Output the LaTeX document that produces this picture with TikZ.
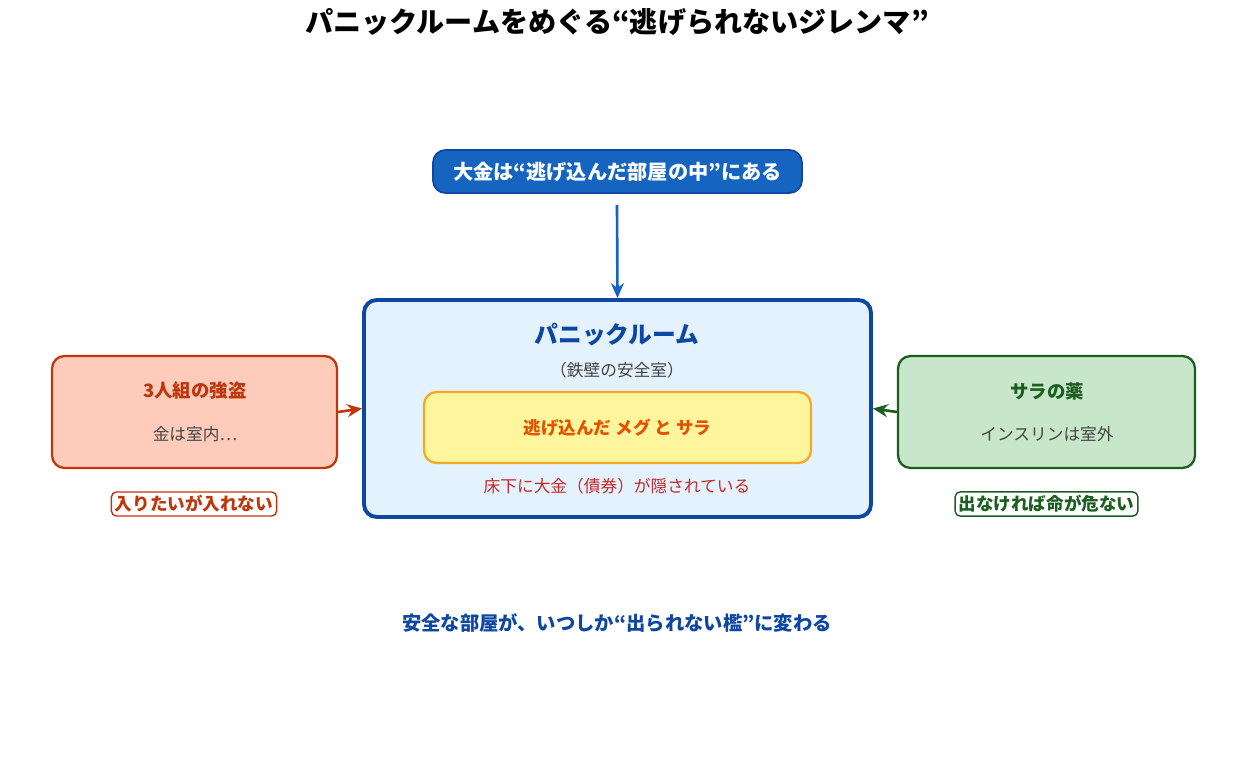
\documentclass[tikz,border=0pt]{standalone}
\usepackage{fontspec}
\setmainfont{Noto Sans CJK JP}
\usetikzlibrary{arrows.meta}
\definecolor{deepblue}{HTML}{0D47A1}
\definecolor{midblue}{HTML}{1565C0}
\definecolor{paleblue}{HTML}{E3F2FD}
\definecolor{robred}{HTML}{BF360C}
\definecolor{robfill}{HTML}{FFCCBC}
\definecolor{drgreen}{HTML}{1B5E20}
\definecolor{drfill}{HTML}{C8E6C9}
\definecolor{hideyel}{HTML}{FFF59D}
\definecolor{hideorg}{HTML}{F9A825}
\definecolor{hidetxt}{HTML}{E65100}
\definecolor{bondred}{HTML}{C62828}
\definecolor{subgray}{HTML}{444444}
\tikzset{
  box/.style={rectangle, rounded corners=2.5mm, line width=1.3pt, inner sep=0pt},
  tag/.style={rectangle, rounded corners=1mm, draw, line width=0.8pt, fill=white,
    font=\fontsize{10}{12}\selectfont\bfseries, inner sep=2pt},
  push/.style={-{Stealth[length=3mm,width=2.6mm]}, line width=1.5pt}
}
\begin{document}
\begin{tikzpicture}[x=0.02cm, y=-0.02cm]
  \useasboundingbox (0,0) rectangle (1235,767);
  % title
  \node (title) at (617,22) {\fontsize{16}{18}\selectfont\bfseries パニックルームをめぐる“逃げられないジレンマ”};
  % money
  \node (money) [box, fill=midblue, draw=deepblue, line width=1pt, minimum width=7.38cm, minimum height=0.86cm,
    text=white, font=\fontsize{11.5}{13}\selectfont\bfseries] at (617.5,171.5) {大金は“逃げ込んだ部屋の中”にある};
  \coordinate (mstart) at (617,205);
  % room
  \node (room) [box, fill=paleblue, draw=deepblue, line width=2.2pt, minimum width=10.14cm, minimum height=4.34cm] at (617.5,408.5) {};
  \node (roomt) [text=deepblue, font=\fontsize{13.5}{15}\selectfont\bfseries] at (617,335) {パニックルーム};
  \node (rooms) [text=subgray, font=\fontsize{9.5}{11}\selectfont] at (617,370) {（鉄壁の安全室）};
  \node (hide) [box, fill=hideyel, draw=hideorg, minimum width=7.74cm, minimum height=1.42cm,
    text=hidetxt, font=\fontsize{10}{12}\selectfont\bfseries] at (617.5,427.5) {逃げ込んだ メグ と サラ};
  \node (bond) [text=bondred, font=\fontsize{9.5}{11}\selectfont] at (617,486) {床下に大金（債券）が隠されている};
  % robbers
  \node (rob) [box, fill=robfill, draw=robred, minimum width=5.7cm, minimum height=2.24cm] at (194.5,412) {};
  \node (robt) [text=robred, font=\fontsize{10.5}{12}\selectfont\bfseries] at (195,391) {3人組の強盗};
  \node (robs) [text=subgray, font=\fontsize{9.5}{11}\selectfont] at (195,434) {金は室内…};
  \node (robtag) [tag, draw=robred, text=robred] at (194,504) {入りたいが入れない};
  % drug
  \node (drug) [box, fill=drfill, draw=drgreen, minimum width=5.94cm, minimum height=2.24cm] at (1046.5,412) {};
  \node (drugt) [text=drgreen, font=\fontsize{10.5}{12}\selectfont\bfseries] at (1047,391) {サラの薬};
  \node (drugs) [text=subgray, font=\fontsize{9.5}{11}\selectfont] at (1047,434) {インスリンは室外};
  \node (drugtag) [tag, draw=drgreen, text=drgreen] at (1046.5,504) {出なければ命が危ない};
  % bottom
  \node (moral) [text=deepblue, font=\fontsize{11}{13}\selectfont\bfseries] at (617,623) {安全な部屋が、いつしか“出られない檻”に変わる};
  \draw [push, midblue] (mstart) -- (room.north);
  \draw [push, robred] (rob.east) -- (room.west);
  \draw [push, drgreen] (drug.west) -- (room.east);
\end{tikzpicture}
\end{document}
